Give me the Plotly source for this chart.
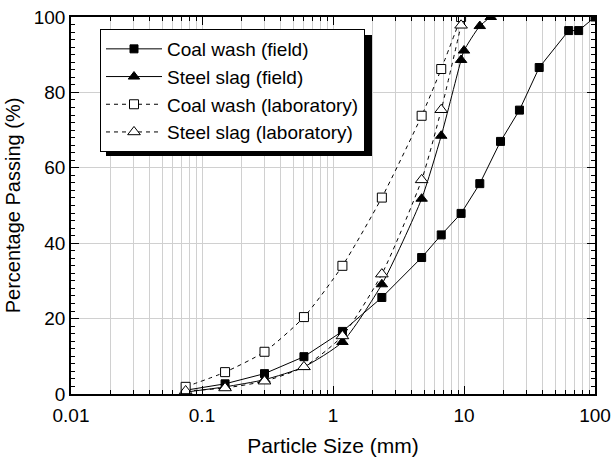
import plotly.graph_objects as go

# Sieve sizes (mm) and percentage passing
coal_field_x = [0.075, 0.15, 0.3, 0.6, 1.18, 2.36, 4.75, 6.7, 9.5, 13.2, 19, 26.5, 37.5, 63, 75, 100]
coal_field_y = [1.0, 2.7, 5.4, 9.9, 16.6, 25.6, 36.2, 42.2, 47.9, 55.8, 67.0, 75.3, 86.6, 96.4, 96.4, 100]

steel_field_x = [0.075, 0.15, 0.3, 0.6, 1.18, 2.36, 4.75, 6.7, 9.5, 10, 13.2, 16]
steel_field_y = [0.5, 1.9, 3.8, 7.2, 13.8, 29.1, 51.8, 68.5, 88.6, 91.1, 97.6, 100]

coal_lab_x = [0.075, 0.15, 0.3, 0.6, 1.18, 2.36, 4.75, 6.7, 9.5]
coal_lab_y = [1.9, 5.8, 11.2, 20.4, 34.0, 52.1, 73.8, 86.2, 100]

steel_lab_x = [0.075, 0.15, 0.3, 0.6, 1.18, 2.36, 4.75, 6.7, 9.5]
steel_lab_y = [0.8, 1.6, 3.4, 7.2, 15.4, 31.8, 56.8, 75.4, 97.8]

names = ["Coal wash (field)", "Steel slag (field)", "Coal wash (laboratory)", "Steel slag (laboratory)"]

x_tickvals = [0.01, 0.1, 1, 10, 100]
x_ticktext = ["0.01", "0.1", "1", "10", "100"]
y_tickvals = [0, 20, 40, 60, 80, 100]

FONT = "Liberation Sans, Arial, sans-serif"

fig = go.Figure()

def add(x, y, name, symbol, fill, dash, shape, size):
    fig.add_trace(go.Scatter(
        x=x, y=y, name=name, mode="lines+markers",
        line=dict(color="black", width=1, dash=dash, shape=shape, smoothing=0.6 if shape == "spline" else None),
        marker=dict(symbol=symbol, size=size, color=fill, line=dict(color="black", width=1)),
    ))

add(coal_field_x, coal_field_y, names[0], "square", "black", "solid", "linear", 8)
add(steel_field_x, steel_field_y, names[1], "triangle-up", "black", "solid", "spline", 10)
add(coal_lab_x, coal_lab_y, names[2], "square", "white", "4px,4px", "spline", 9)
add(steel_lab_x, steel_lab_y, names[3], "triangle-up", "white", "4px,4px", "spline", 11)

L, R, T, B = 71, 595, 17, 394
def px(xp):
    return (xp - L) / (R - L)
def py(yp):
    return (B - yp) / (B - T)

# legend shadow
fig.add_shape(type="rect", xref="paper", yref="paper",
              x0=px(106), x1=px(372), y0=py(156), y1=py(35),
              fillcolor="black", line=dict(width=0), layer="above")

fig.update_layout(
    width=611, height=461,
    margin=dict(l=L, r=611 - R, t=T, b=461 - B),
    paper_bgcolor="white", plot_bgcolor="white",
    font=dict(family=FONT, size=19, color="black"),
    showlegend=True,
    legend=dict(x=px(100), y=py(29), xanchor="left", yanchor="top",
                bgcolor="white", bordercolor="black", borderwidth=1,
                font=dict(size=19, family=FONT),
                itemwidth=56),
    xaxis=dict(type="log", range=[-2, 2], tickvals=x_tickvals, ticktext=x_ticktext,
               ticks="inside", ticklen=8, tickcolor="black", tickwidth=1,
               showline=True, linecolor="black", linewidth=1.5, mirror="ticks",
               showgrid=True, gridcolor="#d0d0d0", gridwidth=1.2,
               minor=dict(ticks="inside", ticklen=4, tickcolor="black", dtick="D1",
                          showgrid=True, gridcolor="#d0d0d0", gridwidth=1.2),
               title=dict(text="Particle Size (mm)", font=dict(size=21), standoff=14),
               tickfont=dict(size=19), zeroline=False, automargin=False,
               ticklabeloverflow="allow", ticklabelstandoff=3),
    yaxis=dict(range=[0, 100], tickvals=y_tickvals,
               ticks="inside", ticklen=8, tickcolor="black", tickwidth=1,
               showline=True, linecolor="black", linewidth=1.5, mirror="ticks",
               showgrid=True, gridcolor="#d0d0d0", gridwidth=1.2,
               minor=dict(ticks="inside", ticklen=4, tickcolor="black", dtick=2, showgrid=False),
               title=dict(text="Percentage Passing (%)", font=dict(size=20), standoff=8),
               tickfont=dict(size=19), zeroline=False, automargin=False),
)

fig.write_html("out.html")
